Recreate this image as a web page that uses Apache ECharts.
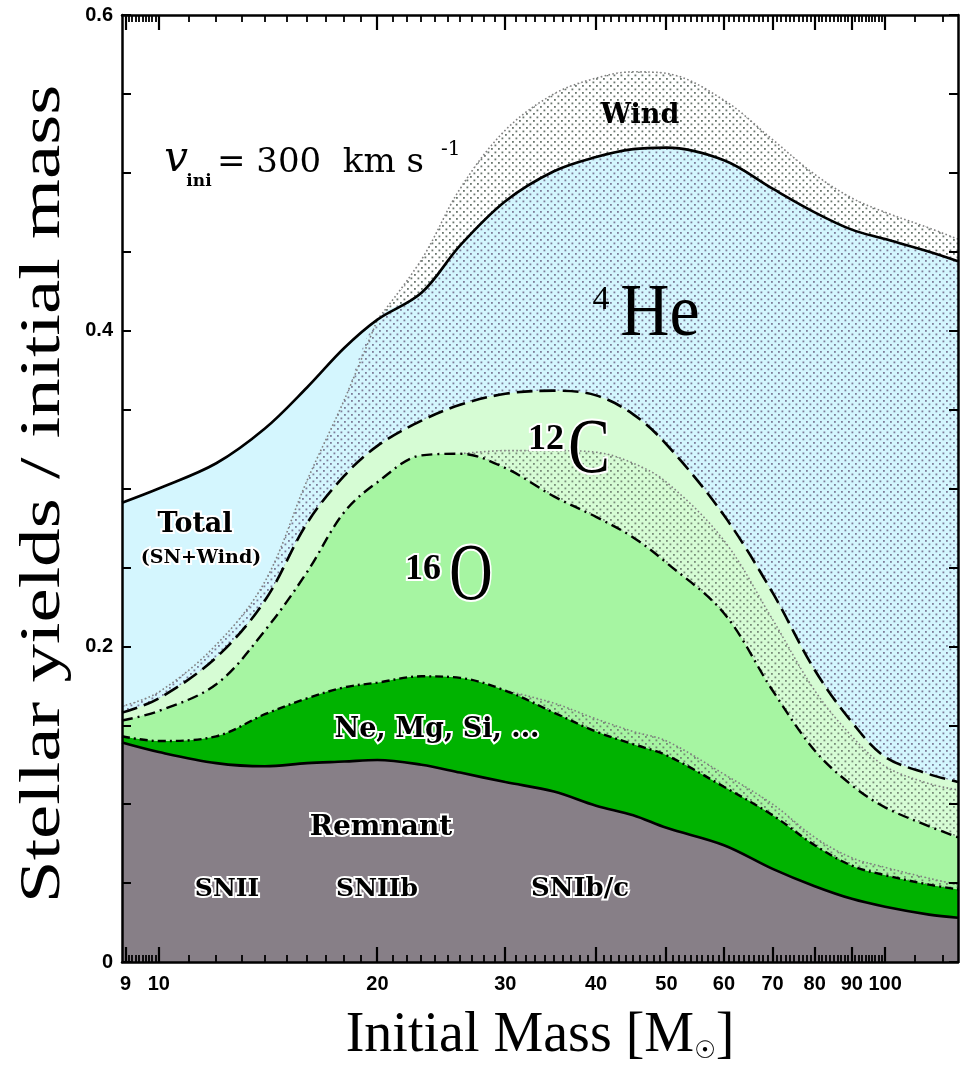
<!DOCTYPE html>
<html>
<head>
<meta charset="utf-8">
<title>Stellar yields / initial mass</title>
<script src="https://cdn.jsdelivr.net/npm/echarts@6/dist/echarts.min.js"></script>
<style>
  html, body { margin: 0; padding: 0; background: #fff; }
  #chart { width: 965px; height: 1072px; }
</style>
</head>
<body>
<div id="chart"></div>
<script>
const masses = [8.9, 10, 12, 14, 16, 18, 20, 23, 26, 30, 35, 40, 45, 50, 60, 70, 80, 90, 100, 115, 126]

// cumulative yields / initial mass, from the bottom up
const remnant = [0.139, 0.133, 0.126, 0.124, 0.126, 0.127, 0.128, 0.125, 0.120, 0.114, 0.108, 0.099, 0.093, 0.085, 0.074, 0.059, 0.048, 0.040, 0.035, 0.030, 0.028]
const neMgSi  = [0.143, 0.140, 0.143, 0.157, 0.167, 0.174, 0.177, 0.181, 0.180, 0.172, 0.158, 0.146, 0.138, 0.131, 0.111, 0.093, 0.074, 0.061, 0.055, 0.049, 0.046]
const oWind   = [0.143, 0.140, 0.143, 0.157, 0.167, 0.174, 0.177, 0.181, 0.180, 0.172, 0.164, 0.154, 0.146, 0.140, 0.119, 0.100, 0.079, 0.066, 0.060, 0.053, 0.049]
const o16     = [0.153, 0.159, 0.176, 0.210, 0.247, 0.285, 0.304, 0.321, 0.322, 0.313, 0.295, 0.282, 0.269, 0.253, 0.221, 0.172, 0.134, 0.112, 0.098, 0.086, 0.079]
const cWind   = [0.153, 0.159, 0.176, 0.210, 0.247, 0.285, 0.304, 0.321, 0.322, 0.324, 0.324, 0.323, 0.316, 0.304, 0.267, 0.217, 0.172, 0.143, 0.124, 0.113, 0.109]
const c12     = [0.158, 0.167, 0.193, 0.229, 0.278, 0.308, 0.327, 0.343, 0.353, 0.360, 0.362, 0.359, 0.347, 0.328, 0.283, 0.234, 0.185, 0.152, 0.130, 0.119, 0.114]
const heWind  = [0.162, 0.171, 0.201, 0.241, 0.305, 0.356, 0.407, 0.424, 0.454, 0.482, 0.501, 0.510, 0.515, 0.516, 0.508, 0.490, 0.475, 0.464, 0.458, 0.450, 0.444]
const he4     = [0.291, 0.300, 0.316, 0.338, 0.364, 0.389, 0.407, 0.424, 0.454, 0.482, 0.501, 0.510, 0.515, 0.516, 0.508, 0.490, 0.475, 0.464, 0.458, 0.450, 0.444]
const windTop = [0.291, 0.300, 0.316, 0.338, 0.364, 0.389, 0.407, 0.445, 0.490, 0.527, 0.550, 0.560, 0.564, 0.563, 0.546, 0.521, 0.499, 0.484, 0.475, 0.465, 0.458]

// axis ticks
const xMajorTicks = [9, 10, 20, 30, 40, 50, 60, 70, 80, 90, 100]
const xTickLabels = ['9', '10', '20', '30', '40', '50', '60', '70', '80', '90', '100']
const yTickValues = [0, 0.2, 0.4, 0.6]
const yTickLabels = ['0', '0.2', '0.4', '0.6']

// minor ticks: every 0.1 below 10, every 1 up to 100, then every 10
const xMinorTicks = []
for (let i = 1; i < 10; i++) xMinorTicks.push(9 + i / 10)
for (let m = 11; m < 100; m++) if (m % 10 !== 0) xMinorTicks.push(m)
xMinorTicks.push(110, 120)

const SMOOTH = 0.35
const Y_MAX = 0.6

const chart = echarts.init(document.getElementById('chart'), null, { renderer: 'canvas' })

// dotted fill used for the wind contributions
function dotPattern(bg, dot) {
  const c = document.createElement('canvas')
  c.width = 7
  c.height = 7
  const ctx = c.getContext('2d')
  ctx.fillStyle = bg
  ctx.fillRect(0, 0, 7, 7)
  ctx.fillStyle = dot
  ctx.fillRect(1, 1, 1.8, 1.8)
  ctx.fillRect(4.5, 4.5, 1.8, 1.8)
  return { image: c, repeat: 'repeat' }
}

const pts = arr => masses.map((m, i) => [m, arr[i]])

// keep only the stretch where a wind edge differs from the curve under it
const edgePts = (arr, base) => masses.map((m, i) => {
  const near = [i - 1, i, i + 1].some(j => j >= 0 && j < arr.length && Math.abs(arr[j] - base[j]) > 1e-9)
  return [m, near ? arr[i] : '-']
})

function area(name, arr, fill, z) {
  return {
    name, type: 'line', data: pts(arr), smooth: SMOOTH, symbol: 'none', silent: true, z,
    lineStyle: { width: 0 },
    areaStyle: { color: fill, opacity: 1 },
  }
}

function curve(name, data, style, z, extra) {
  return Object.assign({
    name, type: 'line', data, smooth: SMOOTH, symbol: 'none', silent: true, z,
    lineStyle: style,
  }, extra || {})
}

const dotted = { color: '#808080', width: 1.6, type: [1.6, 2.4] }

const series = [
  area('Wind', windTop, dotPattern('#ffffff', '#6a766e'), 1),
  area('4He', he4, '#d4f6fe', 2),
  area('4He wind', heWind, dotPattern('#d4f6fe', '#7c7c98'), 3),
  area('12C', c12, '#d6fcd4', 4),
  area('12C wind', cWind, dotPattern('#d6fcd4', '#788c78'), 5),
  area('16O', o16, '#a6f5a2', 6),
  area('16O wind', oWind, dotPattern('#a6f5a2', '#728872'), 7),
  area('Ne, Mg, Si', neMgSi, '#00b300', 8),
  area('Remnant', remnant, '#877f87', 9),

  curve('Wind edge', edgePts(windTop, he4), dotted, 10),
  curve('4He wind edge', edgePts(heWind, he4), dotted, 10),
  curve('12C wind edge', edgePts(cWind, o16), dotted, 10),
  curve('16O wind edge', edgePts(oWind, neMgSi), dotted, 10),

  curve('12C top', pts(c12), { color: '#000', width: 2.6, type: [16, 7] }, 11),
  curve('16O top', pts(o16), { color: '#000', width: 2.4, type: [11, 5, 2, 5] }, 11),
  curve('Ne top', pts(neMgSi), { color: '#000', width: 2.4, type: [8, 4, 2, 4] }, 11),
  curve('Total', pts(he4), { color: '#000', width: 2.6 }, 12),
  curve('Remnant top', pts(remnant), { color: '#000', width: 2.6 }, 12, {
    markLine: {
      symbol: 'none', silent: true, label: { show: false },
      lineStyle: { color: '#000', width: 2, type: [12, 8] },
      data: [[{ coord: [20, 0] }, { coord: [20, remnant[masses.indexOf(20)]] }]],
    },
  }),
]

const axisLine = { show: true, onZero: false, lineStyle: { color: '#000', width: 2.5 } }
const tickStyle = { color: '#000', width: 2 }
const tickFont = { color: '#000', fontFamily: 'Liberation Sans', fontWeight: 'bold', fontSize: 20 }

function xAxis(position, labels) {
  return {
    type: 'log', logBase: 10, min: 8.9, max: 126, position, z: 30,
    axisLine,
    axisTick: { show: false },
    axisLabel: labels ? Object.assign({
      show: true, margin: 12, customValues: xMajorTicks,
      formatter: v => xTickLabels[xMajorTicks.findIndex(t => Math.abs(t - v) < 1e-6)],
    }, tickFont) : { show: false },
    splitLine: { show: false },
    minorTick: { show: false },
  }
}

function yAxis(position, labels) {
  return {
    type: 'value', min: 0, max: Y_MAX, interval: 0.05, position, z: 30,
    axisLine,
    axisTick: { show: true, inside: true, length: 9, lineStyle: tickStyle },
    axisLabel: labels ? Object.assign({
      show: true, margin: 9, customValues: yTickValues,
      formatter: v => yTickLabels[yTickValues.findIndex(t => Math.abs(t - v) < 1e-6)],
    }, tickFont) : { show: false },
    splitLine: { show: false },
  }
}

const halo = { stroke: '#fff', lineWidth: 4, strokeFirst: true }
function label(x, y, text, font, extra, el) {
  return Object.assign({
    type: 'text', x, y, z: 100, silent: true,
    style: Object.assign({ text, font, fill: '#000', align: 'center', verticalAlign: 'middle' }, extra || {}),
  }, el || {})
}
const boldSerif = size => 'bold ' + size + 'px "DejaVu Serif"'
const serif = size => size + 'px "Liberation Serif"'

const graphic = [
  label(640, 116, 'Wind', boldSerif(27)),
  // v_ini = 300 km s^-1
  label(176, 160, 'v', 'italic 42px "DejaVu Serif"'),
  label(199, 182, 'ini', boldSerif(17)),
  label(217, 163, '= 300  km s', '34px "DejaVu Serif"', { align: 'left' }),
  label(441, 150, '-1', '20px "DejaVu Serif"', { align: 'left' }),
  // isotopes
  label(601, 300, '4', serif(34)),
  label(660, 316, 'He', serif(74), null, { scaleX: 0.92 }),
  label(546, 440, '12', 'bold 36px "Liberation Serif"', halo),
  label(589, 452, 'C', serif(78), halo, { scaleX: 0.8 }),
  label(423, 570, '16', 'bold 36px "Liberation Serif"', halo),
  label(471, 578, 'O', serif(80), halo, { scaleX: 0.75 }),
  // region names
  label(195, 525, 'Total', boldSerif(27), halo),
  label(201, 558, '(SN+Wind)', boldSerif(19), halo),
  label(437, 730, 'Ne, Mg, Si, ...', boldSerif(27), halo),
  label(381, 828, 'Remnant', boldSerif(28), halo),
  label(227, 889, 'SNII', boldSerif(25), halo),
  label(377, 889, 'SNIIb', boldSerif(25), halo),
  label(580, 889, 'SNIb/c', boldSerif(26), halo),
  // axis titles
  {
    type: 'text', x: 540, y: 1036, z: 100, silent: true,
    style: {
      text: '{a|Initial Mass [M}{b|☉}{a|]}',
      align: 'center', verticalAlign: 'middle', fill: '#000',
      rich: {
        a: { fontFamily: 'Liberation Serif', fontSize: 56, fill: '#000' },
        b: { fontFamily: 'DejaVu Sans', fontSize: 24, fill: '#000', verticalAlign: 'bottom' },
      },
    },
  },
  label(44, 494, 'Stellar yields / initial mass', serif(58), null, { rotation: Math.PI / 2, scaleX: 1.33 }),
]

const option = {
  animation: false,
  backgroundColor: '#fff',
  grid: { left: 122, right: 7, top: 15, bottom: 110, containLabel: false },
  xAxis: [xAxis('bottom', true), xAxis('top', false)],
  yAxis: [yAxis('left', true), yAxis('right', false)],
  series,
  graphic,
}

chart.setOption(option)

// x ticks on the bottom and top frame, placed with the log axis' own mapping
const yBottom = chart.convertToPixel({ yAxisIndex: 0 }, 0)
const yTop = chart.convertToPixel({ yAxisIndex: 0 }, Y_MAX)
const tickEls = []
function addTicks(list, len, width) {
  list.forEach(m => {
    const x = Math.round(chart.convertToPixel({ xAxisIndex: 0 }, m))
    const style = { stroke: '#000', lineWidth: width }
    tickEls.push({ type: 'line', z: 90, silent: true, shape: { x1: x, y1: yBottom, x2: x, y2: yBottom - len }, style })
    tickEls.push({ type: 'line', z: 90, silent: true, shape: { x1: x, y1: yTop, x2: x, y2: yTop + len }, style })
  })
}
addTicks(xMajorTicks, 15, 2.2)
addTicks(xMinorTicks, 7, 1.8)
chart.setOption({ graphic: graphic.concat(tickEls) })
</script>
</body>
</html>
